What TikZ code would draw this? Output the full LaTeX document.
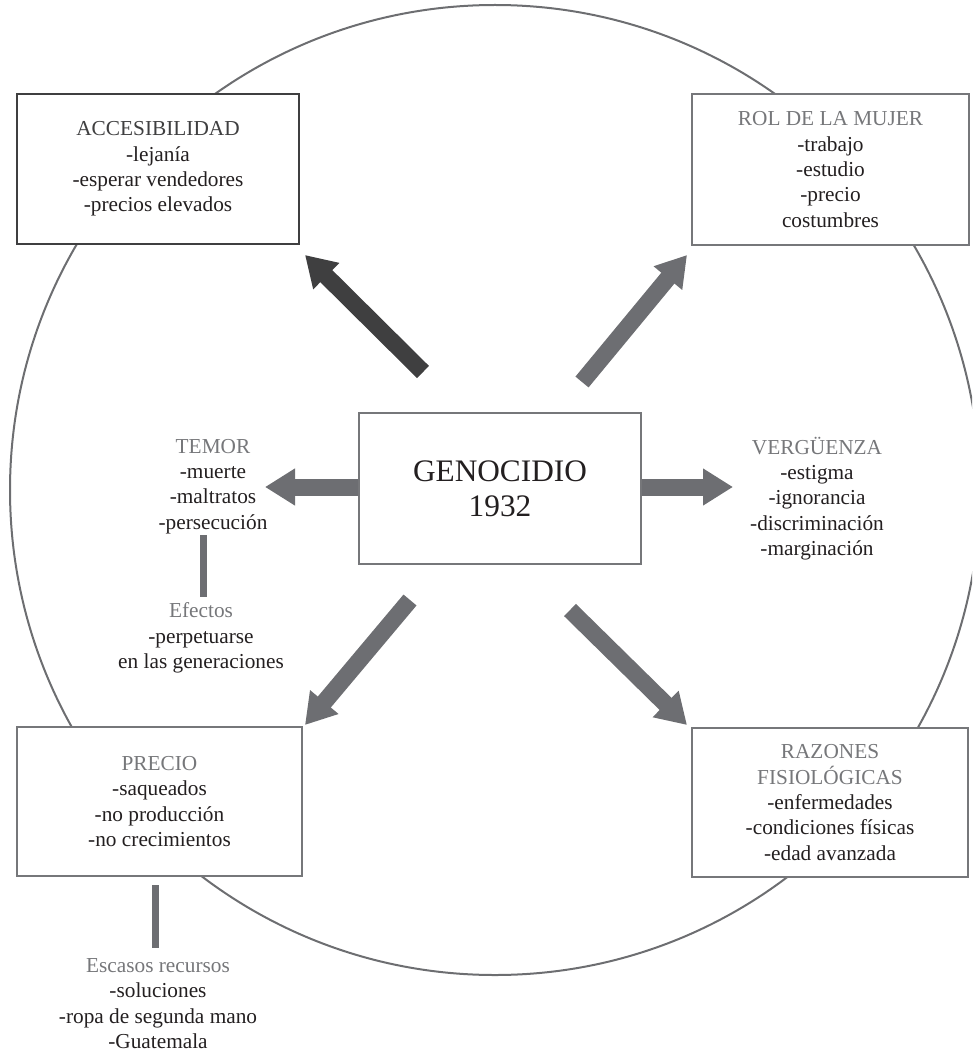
\documentclass[tikz,border=0pt]{standalone}
\usepackage{fontspec}
\setmainfont{Liberation Serif}
\usetikzlibrary{arrows.meta}
\definecolor{txt}{HTML}{231F20}
\definecolor{head}{HTML}{76777A}
\definecolor{ringc}{HTML}{6D6E71}
\definecolor{darkc}{HTML}{3F3F40}
\definecolor{grayc}{HTML}{6D6E72}
\tikzset{
  box/.style={draw=head, line width=2pt, fill=white, align=center, text=txt,
    inner sep=0pt, font=\fontsize{21.3}{25.3}\selectfont},
  darkbox/.style={box, draw=darkc, line width=2.4pt},
  plain/.style={align=center, text=txt, inner sep=0pt, font=\fontsize{21.3}{25.3}\selectfont},
  bigarrow/.style={line width=17pt, -{Triangle[width=35pt,length=30pt]}},
  bar/.style={draw=grayc, line width=7pt},
}
\begin{document}
\begin{tikzpicture}[x=1pt,y=-1pt]
\useasboundingbox (0,0) rectangle (972,1051);
\begin{scope}
\clip (0,0) rectangle (972,1051);
\draw[ringc, line width=2pt] (495,490) circle[radius=485pt];
\end{scope}

% boxes
\node[darkbox, minimum width=282pt, minimum height=150pt] (acc) at (158,169)
  {\textcolor{darkc}{ACCESIBILIDAD}\\-lejanía\\-esperar vendedores\\-precios elevados};
\node[box, minimum width=277pt, minimum height=151pt] (rol) at (830.5,169.5)
  {\textcolor{head}{ROL DE LA MUJER}\\-trabajo\\-estudio\\-precio\\costumbres};
\node[box, minimum width=285pt, minimum height=149pt] (precio) at (159.5,801.5)
  {\textcolor{head}{PRECIO}\\-saqueados\\-no producción\\-no crecimientos};
\node[box, minimum width=276pt, minimum height=149pt] (raz) at (830,802.5)
  {\textcolor{head}{RAZONES}\\\textcolor{head}{FISIOLÓGICAS}\\-enfermedades\\-condiciones físicas\\-edad avanzada};
\node[box, minimum width=282pt, minimum height=151pt,
  font=\fontsize{31.3}{35}\selectfont] (gen) at (500,488.5) {GENOCIDIO\\1932};

% free text blocks
\node[plain] (temor) at (213,486.5)
  {\textcolor{head}{TEMOR}\\-muerte\\-maltratos\\-persecución};
\node[plain] (efectos) at (201,638)
  {\textcolor{head}{Efectos}\\-perpetuarse\\en las generaciones};
\node[plain] (verg) at (817,498.5)
  {\textcolor{head}{VERGÜENZA}\\-estigma\\-ignorancia\\-discriminación\\-marginación};
\node[plain] (escasos) at (158,1003.5)
  {\textcolor{head}{Escasos recursos}\\-soluciones\\-ropa de segunda mano\\-Guatemala};

% arrow end points
\coordinate (nwT) at (423,372);  \coordinate (nwH) at (305,255);
\coordinate (neT) at (582,382);  \coordinate (neH) at (687,255);
\coordinate (swT) at (410,600);  \coordinate (swH) at (305,725);
\coordinate (seT) at (570,610);  \coordinate (seH) at (687,725);
\coordinate (wH) at (265,487);   \coordinate (eH) at (733,487);

\draw[bigarrow, darkc] (nwT) -- (nwH);
\draw[bigarrow, grayc] (neT) -- (neH);
\draw[bigarrow, grayc] (swT) -- (swH);
\draw[bigarrow, grayc] (seT) -- (seH);
\draw[bigarrow, grayc] (gen.west |- wH) -- (wH);
\draw[bigarrow, grayc] (gen.east |- eH) -- (eH);

% bars
\coordinate (t1) at (203,535); \coordinate (t2) at (203,597);
\coordinate (p1) at (155,885); \coordinate (p2) at (155,948);
\draw[bar] (t1) -- (t2);
\draw[bar] (p1) -- (p2);
\end{tikzpicture}
\end{document}
